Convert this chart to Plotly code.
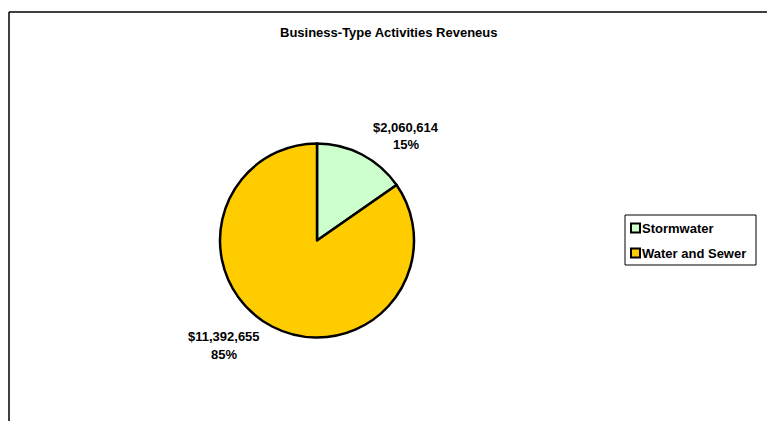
import plotly.graph_objects as go

# Revenue by business-type activity
categories = ["Stormwater", "Water and Sewer"]
revenues = [2060614, 11392655]
colors = ["#CCFFCC", "#FFCC00"]
title_text = "Business-Type Activities Reveneus"

W, H = 767, 421
FONT = "Liberation Sans, Arial, sans-serif"
FS = 13


def px(x):
    return x / W


def py(y):
    return 1 - y / H


def bold(size=FS):
    return dict(size=size, family=FONT, color="black", weight="bold")


total = sum(revenues)
pcts = [round(v / total * 100) for v in revenues]

fig = go.Figure(
    go.Pie(
        labels=categories,
        values=revenues,
        marker=dict(colors=colors, line=dict(color="black", width=2.5)),
        sort=False,
        direction="clockwise",
        rotation=0,
        textinfo="none",
        hoverinfo="label+value+percent",
        showlegend=False,
        domain=dict(x=[px(220), px(414)], y=[py(338), py(143)]),
    )
)

annotations = [
    dict(text=title_text, x=px(388), y=py(32), xanchor="center", yanchor="middle",
         showarrow=False, font=bold()),
]

# Value and percentage labels beside each slice
label_pos = [(406, 127, 144), (224, 336, 354)]
for v, p, (lx, ly1, ly2) in zip(revenues, pcts, label_pos):
    annotations.append(dict(text=f"${v:,}", x=px(lx), y=py(ly1), xanchor="center", yanchor="middle",
                            showarrow=False, font=bold()))
    annotations.append(dict(text=f"{p}%", x=px(lx), y=py(ly2), xanchor="center", yanchor="middle",
                            showarrow=False, font=bold()))

shapes = [
    # outer chart-area frame (left and top edges)
    dict(type="line", xref="paper", yref="paper", x0=px(9), x1=px(9), y0=0, y1=py(12),
         line=dict(color="black", width=1.5)),
    dict(type="line", xref="paper", yref="paper", x0=px(9), x1=1, y0=py(12), y1=py(12),
         line=dict(color="black", width=1.5)),
    # legend box
    dict(type="rect", xref="paper", yref="paper", x0=px(625), x1=px(756), y0=py(265), y1=py(215),
         line=dict(color="black", width=1), fillcolor="white"),
]

# Legend entries
legend_rows = [228, 253]
for name, col, ry in zip(categories, colors, legend_rows):
    shapes.append(dict(type="rect", xref="paper", yref="paper",
                       x0=px(631), x1=px(640), y0=py(ry + 4.5), y1=py(ry - 4.5),
                       line=dict(color="black", width=2), fillcolor=col))
    annotations.append(dict(text=name, x=px(640), y=py(ry), xanchor="left", yanchor="middle",
                            showarrow=False, font=bold()))

fig.update_layout(
    width=W, height=H, autosize=False,
    margin=dict(l=0, r=0, t=0, b=0),
    paper_bgcolor="white", plot_bgcolor="white",
    annotations=annotations, shapes=shapes,
    showlegend=False,
)

fig.write_html("out.html")
